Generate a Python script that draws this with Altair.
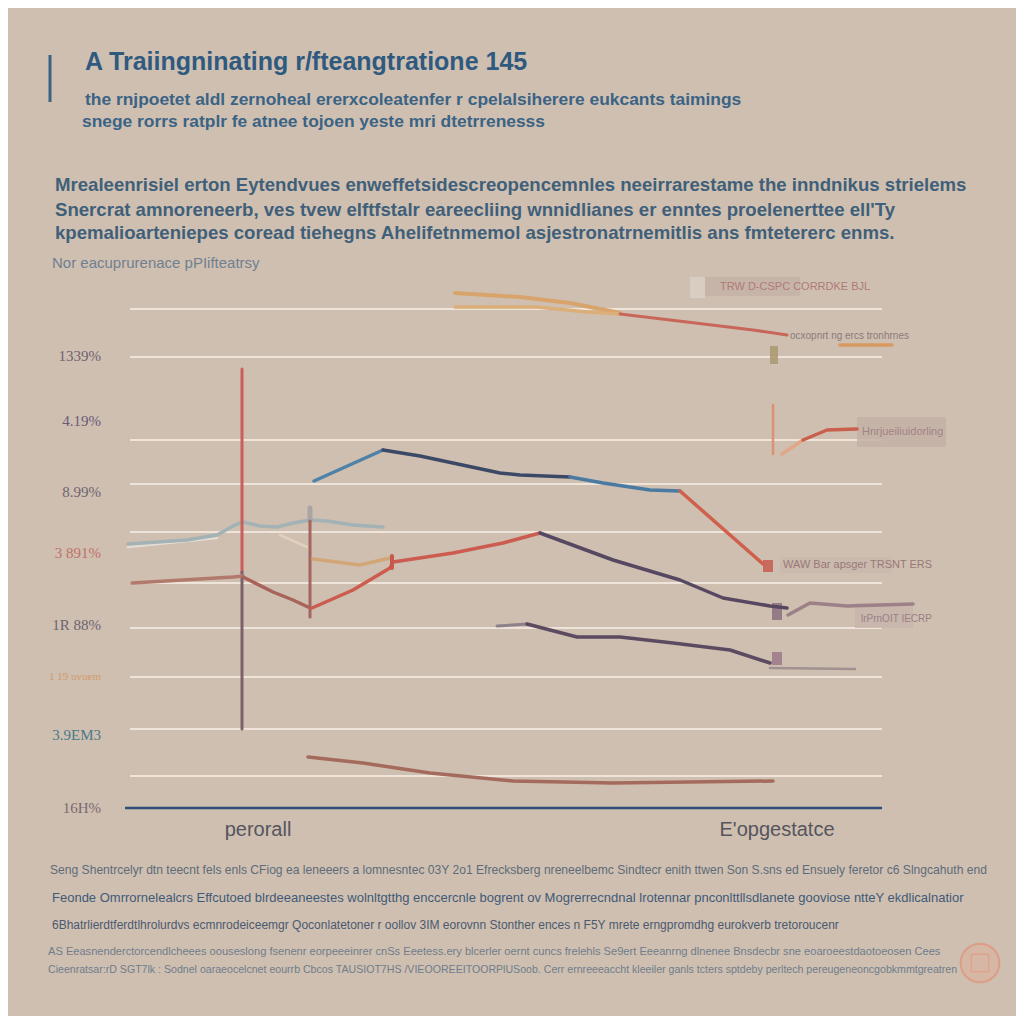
import altair as alt
import pandas as pd

# ---------------- text content ----------------
title_text = "A Traiingninating r/fteangtratione 145"
subtitle_lines = [
    "the rnjpoetet aldl zernoheal ererxcoleatenfer r cpelalsiherere eukcants taimings",
    "snege rorrs ratplr fe atnee tojoen yeste mri dtetrrenesss",
]
para_lines = [
    "Mrealeenrisiel erton Eytendvues enweffetsidescreopencemnles neeirrarestame the inndnikus strielems",
    "Snercrat amnoreneerb, ves tvew elftfstalr eareecliing wnnidlianes er enntes proelenerttee ell'Ty",
    "kpemalioarteniepes coread tiehegns Ahelifetnmemol asjestronatrnemitlis ans fmtetererc enms.",
]
note_text = "Nor eacuprurenace pPIifteatrsy"
footer_lines = [
    "Seng Shentrcelyr dtn teecnt fels enls  CFiog ea leneeers a lomnesntec 03Y 2o1 Efrecksberg nreneelbemc Sindtecr enith ttwen Son S.sns ed Ensuely feretor c6  Slngcahuth end",
    "Feonde Omrrornelealcrs Effcutoed blrdeeaneestes wolnltgtthg  enccercnle bogrent ov Mogrerrecndnal lrotennar pnconlttllsdlanete gooviose ntteY ekdlicalnatior",
    "6Bhatrlierdtferdtlhrolurdvs ecmnrodeiceemgr Qoconlatetoner r oollov 3IM eorovnn Stonther ences   n  F5Y  mrete erngpromdhg  eurokverb tretoroucenr",
    "AS Eeasnenderctorcendlcheees oouseslong fsenenr eorpeeeinrer cnSs Eeetess.ery blcerler oernt cuncs frelehls  Se9ert Eeeanrng dlnenee Bnsdecbr  sne eoaroeestdaotoeosen Cees",
    "Cieenratsar:rD SGT7lk : Sodnel oaraeocelcnet eourrb  Cbcos TAUSIOT7HS  /VIEOOREEITOORPlUSoob.  Cerr ernreeeaccht  kleeiler ganls  tcters sptdeby  perltech pereugeneoncgobkmmtgreatren",
]

# y-axis labels (value positions) and x-axis labels
ylabel_texts = ["1339%", "4.19%", "8.99%", "3 891%", "1R 88%", "1 19 uvuem", "3.9EM3", "16H%"]
ylabel_values = [45.2, 38.7, 31.6, 25.5, 18.3, 13.1, 7.3, 0.0]
xlabel_texts = ["perorall", "E'opgestatce"]
xlabel_values = [13.6, 65.5]

# gridline values
grid_values = [49.9, 45.1, 36.8, 32.4, 27.6, 22.5, 18.0, 13.1, 7.9, 3.2]

# ---------------- line series ----------------
top_orange_a_x = [33.3, 39.8, 44.8, 49.8]
top_orange_a_y = [51.5, 51.1, 50.5, 49.5]
top_orange_b_x = [33.3, 41.5, 46.5, 49.8]
top_orange_b_y = [50.1, 50.1, 49.6, 49.4]
top_red_x = [49.8, 56.5, 63.1, 66.5]
top_red_y = [49.4, 48.6, 47.8, 47.3]
short_orange_x = [71.8, 77.0]
short_orange_y = [46.3, 46.3]
blue_rise_x = [19.2, 26.1]
blue_rise_y = [32.7, 35.8]
navy_x = [26.1, 29.8, 37.8, 39.8, 44.8]
navy_y = [35.8, 35.2, 33.5, 33.3, 33.1]
blue_tail_x = [44.8, 48.1, 52.8, 55.8]
blue_tail_y = [33.1, 32.5, 31.8, 31.7]
red_drop_x = [55.8, 64.1]
red_drop_y = [31.7, 24.4]
wave_x = [0.6, 6.5, 9.5, 11.3, 12.1, 13.8, 15.5, 17.1, 18.8, 20.5, 23.1, 26.1]
wave_y = [26.4, 26.8, 27.3, 28.3, 28.6, 28.2, 28.1, 28.5, 28.8, 28.7, 28.3, 28.1]
wave_hi_x = [0.6, 9.5]
wave_hi_y = [26.1, 27.0]
spike_red_x = [12.0, 12.0]
spike_red_y = [43.9, 23.6]
spike_mauve_x = [12.0, 12.0]
spike_mauve_y = [23.6, 7.9]
post_gray_x = [18.8, 18.8]
post_gray_y = [30.0, 28.7]
post_brown_x = [18.8, 18.8]
post_brown_y = [28.7, 19.1]
brown_left_x = [1.0, 11.1, 12.1]
brown_left_y = [22.5, 23.1, 23.2]
dip_x = [12.1, 15.1, 17.1, 18.6]
dip_y = [23.1, 21.6, 20.8, 20.1]
red_rise_x = [19.0, 23.1, 26.8, 27.1, 33.1, 38.1, 41.8]
red_rise_y = [20.0, 21.8, 24.0, 24.6, 25.5, 26.5, 27.5]
tan_mid_x = [19.1, 23.8, 26.8]
tan_mid_y = [24.9, 24.3, 25.0]
tan_fade_x = [15.8, 18.5]
tan_fade_y = [27.3, 26.1]
purple_x = [41.8, 49.1, 55.8, 60.1, 64.8, 66.5]
purple_y = [27.5, 24.8, 22.8, 21.0, 20.2, 20.0]
mauve_right_x = [66.6, 68.8, 72.5, 79.1]
mauve_right_y = [19.3, 20.5, 20.2, 20.4]
gray_stub_x = [37.5, 40.5]
gray_stub_y = [18.2, 18.4]
dark_low_x = [40.5, 45.5, 49.8, 55.1, 60.8, 64.8]
dark_low_y = [18.4, 17.1, 17.1, 16.5, 15.8, 14.5]
faint_right_x = [64.8, 73.3]
faint_right_y = [14.0, 13.9]
bottom_x = [18.6, 24.1, 30.8, 39.1, 49.1, 65.1]
bottom_y = [5.1, 4.5, 3.5, 2.7, 2.5, 2.7]
right_pale_x = [66.0, 68.1]
right_pale_y = [35.4, 36.8]
right_red_x = [68.1, 70.5, 73.5]
right_red_y = [36.8, 37.8, 37.9]
thin_post_x = [65.1, 65.1]
thin_post_y = [40.3, 35.4]
red_tick_x = [27.0, 27.0]
red_tick_y = [25.2, 24.0]

# annotation boxes: x, x2, y, y2
box_x = [56.8, 56.8, 64.8, 73.5, 64.1, 65.8, 65.0, 65.0, 73.3]
box_x2 = [67.8, 58.3, 65.6, 82.4, 65.1, 77.0, 66.0, 66.0, 79.1]
box_y = [53.1, 53.1, 46.2, 39.1, 24.8, 25.1, 20.5, 15.6, 20.5]
box_y2 = [51.2, 51.0, 44.4, 36.1, 23.6, 23.5, 18.8, 14.3, 18.0]

# annotation labels inside the plot
note_texts = ["TRW D-CSPC CORRDKE BJL", "ocxopnrt ng ercs tronhrnes", "Hnrjueiliuidorling",
              "WAW Bar apsger TRSNT ERS", "lrPrnOIT IECRP"]
note_x = [59.8, 66.8, 74.0, 66.1, 73.9]
note_y = [52.1, 47.2, 37.6, 24.3, 18.9]

# ---------------- styles ----------------
BG = "#cfbfb0"
SANS = "Liberation Sans, Arial, sans-serif"
SERIF = "Liberation Serif, DejaVu Serif, serif"

series = [
    ("wave_hi", wave_hi_x, wave_hi_y, "#e4ddd5", 2.5),
    ("wave", wave_x, wave_y, "#a3b2b5", 3.5),
    ("tan_fade", tan_fade_x, tan_fade_y, "#e2d0bc", 2.5),
    ("top_orange_a", top_orange_a_x, top_orange_a_y, "#d9a46c", 4),
    ("top_orange_b", top_orange_b_x, top_orange_b_y, "#dbae7a", 3.5),
    ("top_red", top_red_x, top_red_y, "#c8665a", 3),
    ("short_orange", short_orange_x, short_orange_y, "#d89a60", 3.5),
    ("blue_rise", blue_rise_x, blue_rise_y, "#4f82a8", 3.5),
    ("navy", navy_x, navy_y, "#3c4966", 3.5),
    ("blue_tail", blue_tail_x, blue_tail_y, "#4a7aa2", 3.5),
    ("red_drop", red_drop_x, red_drop_y, "#d0604e", 3.5),
    ("spike_red", spike_red_x, spike_red_y, "#c95f58", 3),
    ("spike_mauve", spike_mauve_x, spike_mauve_y, "#7d626c", 3),
    ("post_gray", post_gray_x, post_gray_y, "#aaa5a3", 5),
    ("post_brown", post_brown_x, post_brown_y, "#a4665e", 3),
    ("brown_left", brown_left_x, brown_left_y, "#b27a6c", 3.5),
    ("dip", dip_x, dip_y, "#a8645a", 3.5),
    ("tan_mid", tan_mid_x, tan_mid_y, "#d2a676", 3.5),
    ("red_rise", red_rise_x, red_rise_y, "#cc5c50", 3.5),
    ("red_tick", red_tick_x, red_tick_y, "#c8584c", 4),
    ("purple", purple_x, purple_y, "#574862", 3.5),
    ("mauve_right", mauve_right_x, mauve_right_y, "#9c8288", 3.5),
    ("gray_stub", gray_stub_x, gray_stub_y, "#8e8088", 3),
    ("dark_low", dark_low_x, dark_low_y, "#5b4a60", 3.5),
    ("faint_right", faint_right_x, faint_right_y, "#a09290", 2.5),
    ("bottom", bottom_x, bottom_y, "#a46a5c", 3.5),
    ("right_pale", right_pale_x, right_pale_y, "#e0a886", 3.5),
    ("right_red", right_red_x, right_red_y, "#c9604e", 3.5),
    ("thin_post", thin_post_x, thin_post_y, "#d8946e", 2.5),
]
box_colors = ["#c6b2a8", "#dbd0c8", "#a89870", "#c4b0a6", "#c85a50", "#c9b8ad", "#8a7080", "#9a7888", "#c8b4ac"]
note_colors = ["#b07a78", "#8a7c7a", "#a08484", "#9a7878", "#9a8088"]
note_sizes = [11, 10, 11, 11, 10]
ylabel_colors = ["#6e6272", "#6a5a78", "#6e6470", "#c0706a", "#6a6470", "#d09a6a", "#4a7a88", "#7a6a70"]
ylabel_sizes = [15, 15, 15, 15, 15, 11, 15, 15]

rows = []
for k, (name, xs, ys, col, w) in enumerate(series):
    for i, (xv, yv) in enumerate(zip(xs, ys)):
        rows.append({"s": name, "i": i, "x": xv, "y": yv, "c": col, "w": w, "z": k})
lines_df = pd.DataFrame(rows)

xs_scale = alt.Scale(domain=[0, 76], nice=False, zero=False)
ys_scale = alt.Scale(domain=[0, 53.8], nice=False, zero=False)
X = lambda f: alt.X(f, type="quantitative", scale=xs_scale, axis=None)
Y = lambda f: alt.Y(f, type="quantitative", scale=ys_scale, axis=None)

grid_df = pd.DataFrame({"y": grid_values, "x": [0.8] * len(grid_values), "x2": [76.0] * len(grid_values)})
grid = alt.Chart(grid_df).mark_rule(color="#eee4da", strokeWidth=2).encode(
    x=X("x"), x2="x2", y=Y("y"))

axis_df = pd.DataFrame({"y": [0.0], "x": [0.3], "x2": [76.0]})
axis_line = alt.Chart(axis_df).mark_rule(color="#2d4f78", strokeWidth=2.5).encode(
    x=X("x"), x2="x2", y=Y("y"))

boxes_df = pd.DataFrame({"x": box_x, "x2": box_x2, "y": box_y, "y2": box_y2, "c": box_colors})
boxes = alt.Chart(boxes_df).mark_rect(opacity=0.85).encode(
    x=X("x"), x2="x2", y=Y("y"), y2="y2", color=alt.Color("c:N", scale=None))

lines = alt.Chart(lines_df).mark_line(strokeCap="round", strokeJoin="round").encode(
    x=X("x"), y=Y("y"), detail="s:N", order="i:Q",
    color=alt.Color("c:N", scale=None), size=alt.Size("w:Q", scale=None))

notes_df = pd.DataFrame({"t": note_texts, "x": note_x, "y": note_y, "c": note_colors, "fs": note_sizes})
notes = alt.Chart(notes_df).mark_text(align="left", baseline="middle", font=SANS).encode(
    x=X("x"), y=Y("y"), text="t:N", color=alt.Color("c:N", scale=None),
    size=alt.Size("fs:Q", scale=None))

yl_df = pd.DataFrame({"t": ylabel_texts, "y": ylabel_values, "c": ylabel_colors, "fs": ylabel_sizes})
ylabels = alt.Chart(yl_df).mark_text(align="right", baseline="middle", font=SERIF).encode(
    x=alt.value(-21), y=Y("y"), text="t:N", color=alt.Color("c:N", scale=None),
    size=alt.Size("fs:Q", scale=None))

xl_df = pd.DataFrame({"t": xlabel_texts, "x": xlabel_values})
xlabels = alt.Chart(xl_df).mark_text(align="center", baseline="middle", font="Liberation Sans",
                                     fontSize=20, color="#55555e").encode(
    x=X("x"), y=alt.value(560), text="t:N")

dummy = pd.DataFrame({"a": [1]})


def txt(s, x, y, size, color, weight="normal", font=SANS, align="left", opacity=1.0):
    return alt.Chart(dummy).mark_text(
        text=s, fontSize=size, color=color, fontWeight=weight, font=font,
        align=align, baseline="middle", opacity=opacity
    ).encode(x=alt.value(x), y=alt.value(y))


texts = [
    txt(title_text, -37, -208, 25, "#2f5a80", "bold"),
    txt(subtitle_lines[0], -37, -170, 17.4, "#3b6385", "bold"),
    txt(subtitle_lines[1], -40, -148, 17.4, "#3b6385", "bold"),
    txt(para_lines[0], -67, -85, 18.6, "#3f5f7a", "bold"),
    txt(para_lines[1], -67, -60, 18.6, "#3f5f7a", "bold"),
    txt(para_lines[2], -67, -37, 18.6, "#3f5f7a", "bold"),
    txt(note_text, -70, -7, 15, "#6f8090"),
    txt(footer_lines[0], -72, 600, 12.1, "#5d6b7a"),
    txt(footer_lines[1], -70, 628, 13, "#3f5a78"),
    txt(footer_lines[2], -70, 655, 12, "#4a5a70"),
    txt(footer_lines[3], -74, 682, 11.1, "#6e7d8c"),
    txt(footer_lines[4], -74, 700, 10.6, "#6e7d8c"),
]

bar = alt.Chart(dummy).mark_rule(color="#3b6385", strokeWidth=3).encode(
    x=alt.value(-72), y=alt.value(-215), y2=alt.value(-168))

stamp_fill = alt.Chart(dummy).mark_point(shape="circle", filled=True, size=1500,
                                         color="#dcae9c", opacity=0.55).encode(
    x=alt.value(858), y=alt.value(693))
stamp_ring = alt.Chart(dummy).mark_point(shape="circle", filled=False, size=1500,
                                         color="#e2927a", strokeWidth=2).encode(
    x=alt.value(858), y=alt.value(693))
stamp_inner = alt.Chart(dummy).mark_point(shape="square", filled=False, size=300,
                                          color="#e29a84", strokeWidth=1.5).encode(
    x=alt.value(858), y=alt.value(693))

chart = alt.layer(
    grid, axis_line, boxes, lines, notes, ylabels, xlabels, bar,
    stamp_fill, stamp_ring, stamp_inner, *texts
).properties(
    width=760, height=538,
    padding={"left": 114, "top": 262, "right": 134, "bottom": 208},
    autosize=alt.AutoSizeParams(type="none"),
    background=BG,
).configure_view(strokeWidth=0)

chart.save("out.html", embed_options={"renderer": "svg", "actions": False})
